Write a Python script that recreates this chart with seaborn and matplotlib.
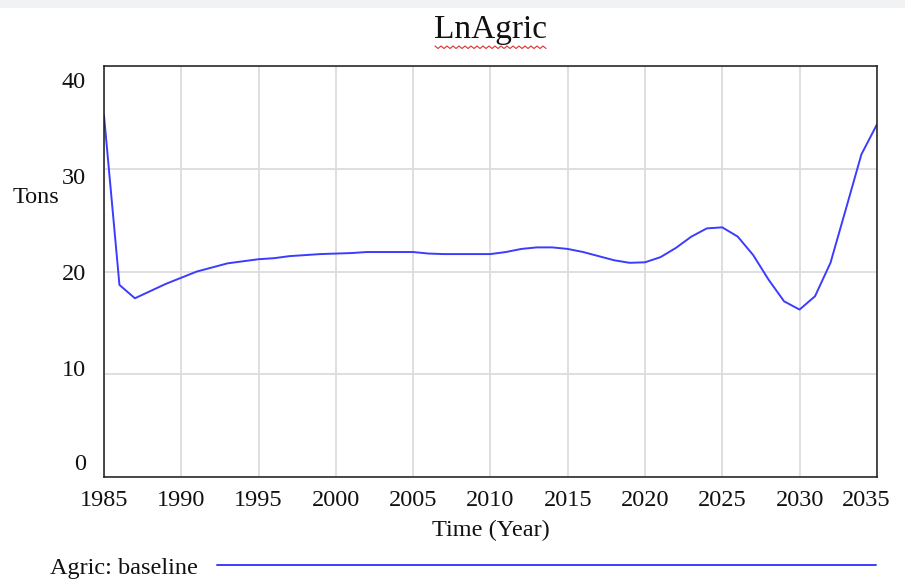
import numpy as np
import pandas as pd
import seaborn as sns
import matplotlib.pyplot as plt
import matplotlib.transforms as mtransforms
from matplotlib.lines import Line2D
from matplotlib.patches import Rectangle

# values (one per year)
years = list(range(1985, 2036))
agric = [35.2, 18.7, 17.4, 18.1, 18.8, 19.4, 20.0, 20.4, 20.8, 21.0,
         21.2, 21.3, 21.5, 21.6, 21.7, 21.75, 21.8, 21.9, 21.9, 21.9,
         21.9, 21.75, 21.7, 21.7, 21.7, 21.7, 21.9, 22.2, 22.35, 22.35,
         22.2, 21.9, 21.5, 21.1, 20.85, 20.9, 21.4, 22.3, 23.4, 24.2,
         24.3, 23.4, 21.6, 19.2, 17.1, 16.3, 17.6, 20.85, 26.1, 31.4,
         34.3]
xticks = list(range(1985, 2036, 5))
yticks = [0, 10, 20, 30, 40]

df = pd.DataFrame({"Time": years, "Agric: baseline": agric})

sns.set_theme(style="white")
plt.rcParams['font.family'] = ['Liberation Serif', 'DejaVu Serif']

fig = plt.figure(figsize=(9.05, 5.79), dpi=100)
ax = fig.add_axes([0.1149, 0.176, 0.854, 0.710])

sns.lineplot(data=df, x="Time", y="Agric: baseline", ax=ax, color="#3c3cff",
             linewidth=1.4, label="Agric: baseline", legend=False)

ax.set_xlim(1985, 2035)
ax.set_ylim(0, 40)
ax.set_xticks(xticks)
ax.set_yticks(yticks)
ax.grid(True, color="#dcdcdc", linewidth=1.3)
for s in ax.spines.values():
    s.set_color("#1a1a1a")
    s.set_linewidth(1.1)
ax.tick_params(axis="both", length=0, labelsize=17.5, colors="#111111")
ax.tick_params(axis="y", pad=13)
ax.tick_params(axis="x", pad=9)

# Vensim spreads the y labels a bit differently from the grid
offs = {0: 0.15, 10: 0.06, 20: 0.0, 30: -0.07, 40: -0.14}
for lab, v in zip(ax.get_yticklabels(), yticks):
    lab.set_transform(lab.get_transform() + mtransforms.ScaledTranslation(0, offs[v], fig.dpi_scale_trans))
xl = ax.get_xticklabels()
xl[-1].set_transform(xl[-1].get_transform() + mtransforms.ScaledTranslation(-0.11, 0, fig.dpi_scale_trans))

ax.set_xlabel("Time (Year)", fontsize=17.5, color="#111111")
ax.xaxis.set_label_coords(0.5, -0.129)
ax.xaxis.label.set_va("center")
ax.set_ylabel("Tons", fontsize=17.5, rotation=0, color="#111111")
ax.yaxis.set_label_coords(-0.088, 0.679)
ax.yaxis.label.set_va("center")
ax.yaxis.label.set_ha("center")

ax.set_title("LnAgric", fontsize=24, pad=20, color="#111111")

leg = ax.legend(loc="center left", bbox_to_anchor=(0.042, 0.019), bbox_transform=fig.transFigure,
                frameon=False, markerfirst=False, handlelength=27.1, handletextpad=0.8,
                borderpad=0, fontsize=17.5)
for t in leg.get_texts():
    t.set_color("#111111")

# light strip across the top and the spell-check squiggle under the title
fig.patches.append(Rectangle((0, 1 - 8 / 579), 1, 8 / 579, transform=fig.transFigure,
                             facecolor="#f1f2f4", edgecolor="none"))
zx = np.arange(435, 549, 3)
zy = np.where(np.arange(len(zx)) % 2 == 0, 46, 48.5)
fig.lines.append(Line2D(zx / 905, 1 - zy / 579, transform=fig.transFigure,
                        color="#e03030", linewidth=0.8))

fig.savefig("out.png", dpi=100)
